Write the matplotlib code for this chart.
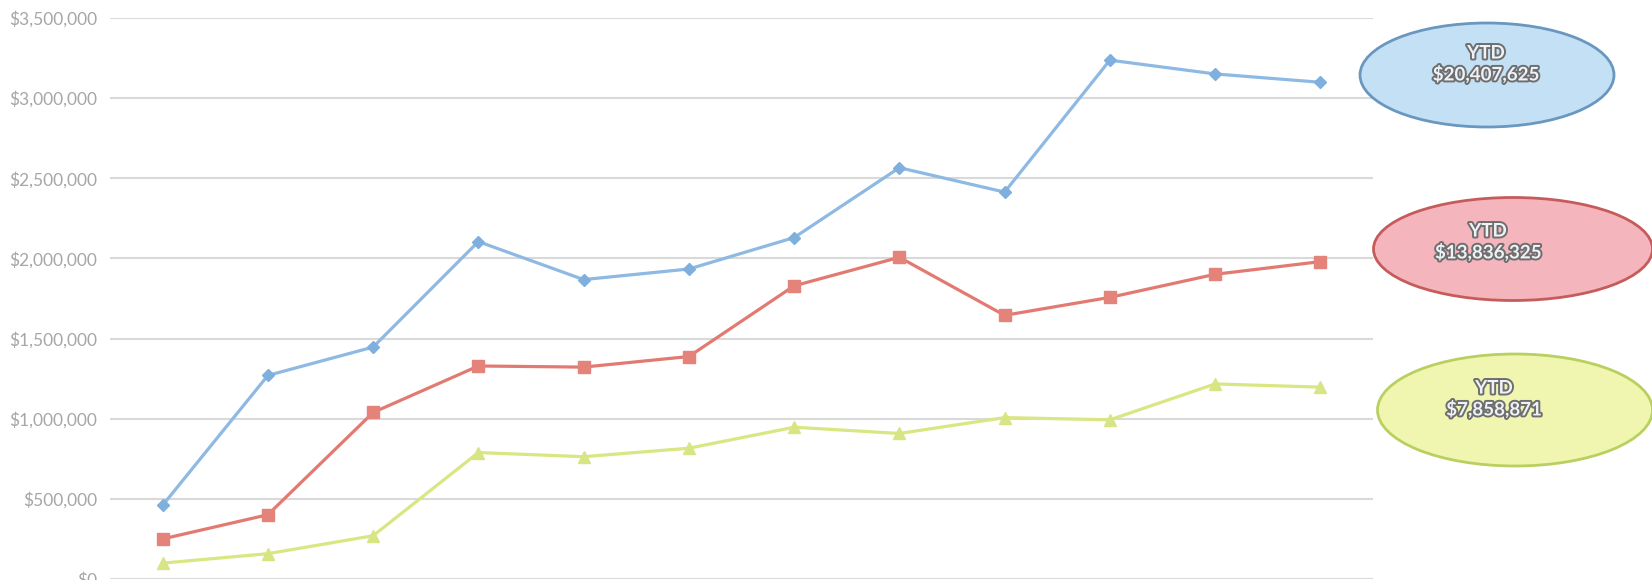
import matplotlib
matplotlib.use("Agg")
import matplotlib.pyplot as plt
from matplotlib.patches import Ellipse
from matplotlib.ticker import FuncFormatter, MultipleLocator
import matplotlib.patheffects as pe

months = list(range(12))
series_blue = [460000, 1270000, 1447000, 2105000, 1868000, 1934000, 2130000, 2566000, 2414000, 3237000, 3151000, 3099000]
series_red = [250000, 401000, 1039000, 1329000, 1322000, 1388000, 1829000, 2007000, 1645000, 1757000, 1901000, 1980000]
series_green = [99000, 158000, 270000, 789000, 763000, 816000, 947000, 908000, 1007000, 993000, 1217000, 1197000]
ytd_labels = ["YTD\n$20,407,625", "YTD\n$13,836,325", "YTD\n$7,858,871"]

W, H = 1652, 580
fig = plt.figure(figsize=(W / 100, H / 100), dpi=100)
fig.patch.set_facecolor("white")

left, right, top, bottom = 110, 1373, 18, 579
ax = fig.add_axes([left / W, (H - bottom) / H, (right - left) / W, (bottom - top) / H])

ax.plot(months, series_blue, color="#8DB9E3", lw=2.3, marker="D", ms=6.5,
        mfc="#7FAFDD", mec="#7FAFDD", clip_on=False, zorder=3)
ax.plot(months, series_red, color="#E27A72", lw=2.3, marker="s", ms=9,
        mfc="#E4837A", mec="#E4837A", clip_on=False, zorder=3)
ax.plot(months, series_green, color="#D9E681", lw=2.3, marker="^", ms=8,
        mfc="#D8E585", mec="#D8E585", clip_on=False, zorder=3)

ax.set_xlim(-0.5, 11.5)
ax.set_ylim(0, 3500000)
ax.yaxis.set_major_locator(MultipleLocator(500000))
ax.yaxis.set_major_formatter(FuncFormatter(lambda v, p: "${:,.0f}".format(v)))
ax.grid(axis="y", color="#D9D9D9", lw=1.5)
ax.set_axisbelow(True)
ax.set_xticks([])
for s in ax.spines.values():
    s.set_visible(False)
ax.tick_params(axis="y", length=0, pad=9, labelsize=12.5, labelcolor="#A6A6A6")
for t in ax.get_yticklabels():
    t.set_family(["Lato", "DejaVu Sans"])

# YTD ellipses (pixel geometry from top-left)
ellipses = [
    dict(cx=1487, cy=75, w=254, h=104, fc="#C3E0F5", ec="#6A97BF", tx=1486, ty=64),
    dict(cx=1513, cy=249, w=279, h=103, fc="#F5B5BC", ec="#C65B5B", tx=1488, ty=242),
    dict(cx=1515, cy=410, w=275, h=112, fc="#F0F6B0", ec="#B9D060", tx=1494, ty=399),
]
for e, lab in zip(ellipses, ytd_labels):
    el = Ellipse(((e["cx"]) / W, (H - e["cy"]) / H), e["w"] / W, e["h"] / H,
                 transform=fig.transFigure, facecolor=e["fc"], edgecolor=e["ec"], lw=2)
    fig.add_artist(el)
    fig.text(e["tx"] / W, (H - e["ty"]) / H, lab, ha="center", va="center",
             fontsize=13.5, fontweight="bold", color="#EEF3F8", linespacing=1.2,
             family=["Lato", "DejaVu Sans"],
             path_effects=[pe.withStroke(linewidth=2.8, foreground="#6E6E6E")])

fig.savefig("out.png", dpi=100)
